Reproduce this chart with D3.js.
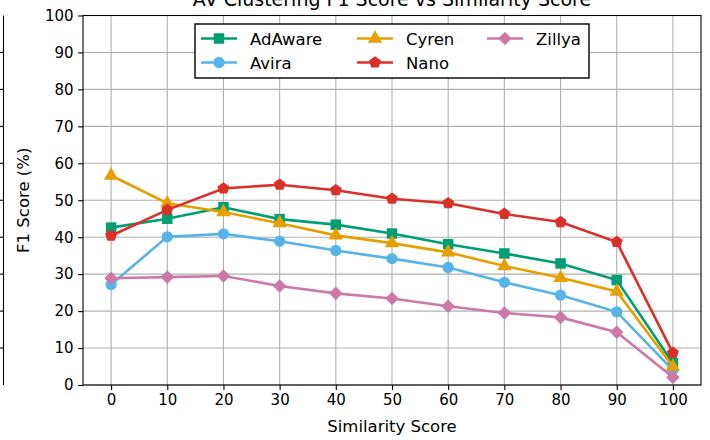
<!DOCTYPE html>
<html>
<head>
<meta charset="utf-8">
<script src="https://cdn.jsdelivr.net/npm/d3@7"></script>
<style>
  body { margin: 0; background: #fff; }
  svg { display: block; font-family: "DejaVu Sans", sans-serif; }
</style>
</head>
<body>
<div id="vis"></div>
<script>
'use strict';

var simScores = [0, 10, 20, 30, 40, 50, 60, 70, 80, 90, 100];
var yTicks = [0, 10, 20, 30, 40, 50, 60, 70, 80, 90, 100];

var adaware = [42.6, 45.0, 48.1, 44.9, 43.4, 41.0, 38.1, 35.6, 32.9, 28.4, 5.9];
var avira   = [27.2, 40.1, 40.9, 38.9, 36.4, 34.2, 31.8, 27.8, 24.3, 19.8, 4.0];
var cyren   = [56.7, 49.2, 46.8, 43.8, 40.5, 38.4, 35.9, 32.2, 29.0, 25.3, 5.0];
var nano    = [40.4, 47.4, 53.2, 54.2, 52.7, 50.4, 49.2, 46.3, 44.1, 38.7, 8.7];
var zillya  = [28.9, 29.2, 29.5, 26.8, 24.8, 23.4, 21.3, 19.5, 18.3, 14.3, 2.1];

var series = [
    { name: 'AdAware', values: adaware, color: '#009e73', symbol: d3.symbolSquare, size: 110 },
    { name: 'Avira',   values: avira,   color: '#56b4e9', symbol: d3.symbolCircle, size: 100 },
    { name: 'Cyren',   values: cyren,   color: '#e69f00', symbol: d3.symbolTriangle, size: 90 },
    { name: 'Nano',    values: nano,    color: '#d93027', symbol: 'pentagon', size: 100 },
    { name: 'Zillya',  values: zillya,  color: '#cc79a7', symbol: 'diamond', size: 110 }
];

var width = 710, height = 440;
var margin = { left: 83, right: 9, top: 15.5, bottom: 55 };

var svg = d3.select('#vis').append('svg')
    .attr('width', width)
    .attr('height', height);

var x = d3.scaleLinear().domain([-5, 105]).range([margin.left, width - margin.right]);
var y = d3.scaleLinear().domain([0, 100]).range([height - margin.bottom, margin.top]);

// regular polygon path centred on 0,0
function polygon(n, r, start) {
    var pts = d3.range(n).map(function (i) {
        var a = start + i * 2 * Math.PI / n;
        return [r * Math.cos(a), r * Math.sin(a)];
    });
    return 'M' + pts.join('L') + 'Z';
}

function markerPath(s) {
    if (s.symbol === 'pentagon') {
        return polygon(5, 6.3, -Math.PI / 2);
    }
    if (s.symbol === 'diamond') {
        return polygon(4, 6.8, -Math.PI / 2);   // square turned 45 deg
    }
    return d3.symbol().type(s.symbol).size(s.size)();
}

// leftover spine of the neighbour panel
svg.append('line')
    .attr('x1', 3.5).attr('x2', 3.5)
    .attr('y1', y(100)).attr('y2', y(0))
    .attr('stroke', '#000').attr('stroke-width', 1.1);
svg.selectAll('.stub-tick')
    .data(yTicks.slice(1, -1))
    .enter().append('line')
    .attr('x1', 0).attr('x2', 3.5)
    .attr('y1', function (d) { return y(d); })
    .attr('y2', function (d) { return y(d); })
    .attr('stroke', '#000').attr('stroke-width', 1.1);

// grid
var gridG = svg.append('g').attr('class', 'grid');
gridG.selectAll('.gx')
    .data(simScores)
    .enter().append('line')
    .attr('x1', function (d) { return x(d); })
    .attr('x2', function (d) { return x(d); })
    .attr('y1', y(0)).attr('y2', y(100))
    .attr('stroke', '#b0b0b0').attr('stroke-width', 1.1);
gridG.selectAll('.gy')
    .data(yTicks)
    .enter().append('line')
    .attr('x1', x(-5)).attr('x2', x(105))
    .attr('y1', function (d) { return y(d); })
    .attr('y2', function (d) { return y(d); })
    .attr('stroke', '#b0b0b0').attr('stroke-width', 1.1);

// axes
var xAxis = svg.append('g')
    .attr('transform', 'translate(0,' + y(0) + ')')
    .call(d3.axisBottom(x).tickValues(simScores).tickSize(4.9).tickPadding(4.5));
var yAxis = svg.append('g')
    .attr('transform', 'translate(' + x(-5) + ',0)')
    .call(d3.axisLeft(y).tickValues(yTicks).tickSize(4.9).tickPadding(4.5));
[xAxis, yAxis].forEach(function (a) {
    a.select('.domain').remove();
    a.selectAll('line').attr('stroke', '#000').attr('stroke-width', 1.1);
    a.selectAll('text')
        .attr('font-family', '"DejaVu Sans", sans-serif')
        .attr('font-size', 15)
        .attr('fill', '#000');
});

// frame
svg.append('rect')
    .attr('x', x(-5)).attr('y', y(100))
    .attr('width', x(105) - x(-5)).attr('height', y(0) - y(100))
    .attr('fill', 'none').attr('stroke', '#000').attr('stroke-width', 1.1);

// lines + markers
var line = d3.line()
    .x(function (d, i) { return x(simScores[i]); })
    .y(function (d) { return y(d); });

var plotG = svg.append('g');
series.forEach(function (s) {
    var g = plotG.append('g');
    g.append('path')
        .attr('d', line(s.values))
        .attr('fill', 'none')
        .attr('stroke', s.color)
        .attr('stroke-width', 2.6);
    g.selectAll('path.mk')
        .data(s.values)
        .enter().append('path')
        .attr('class', 'mk')
        .attr('d', markerPath(s))
        .attr('transform', function (d, i) {
            return 'translate(' + x(simScores[i]) + ',' + y(d) + ')';
        })
        .attr('fill', s.color);
});

// legend
var legG = svg.append('g').attr('transform', 'translate(195,24)');
legG.append('rect')
    .attr('width', 394).attr('height', 54)
    .attr('fill', '#fff').attr('stroke', '#000').attr('stroke-width', 1.4);
var colX = [6, 162, 292];
var rowY = [14.5, 38.5];
series.forEach(function (s, i) {
    var col = Math.floor(i / 2), row = i % 2;
    var it = legG.append('g')
        .attr('transform', 'translate(' + colX[col] + ',' + rowY[row] + ')');
    it.append('line')
        .attr('x1', 0).attr('x2', 36)
        .attr('stroke', s.color).attr('stroke-width', 2.6);
    it.append('path')
        .attr('d', markerPath(s))
        .attr('transform', 'translate(18,0)')
        .attr('fill', s.color);
    it.append('text')
        .attr('x', 49).attr('y', 6)
        .attr('font-size', 16.5)
        .text(s.name);
});

// titles
svg.append('text')
    .attr('x', (x(-5) + x(105)) / 2).attr('y', 5.5)
    .attr('text-anchor', 'middle')
    .attr('font-size', 19)
    .text('AV Clustering F1 Score vs Similarity Score');
svg.append('text')
    .attr('x', (x(-5) + x(105)) / 2).attr('y', 432)
    .attr('text-anchor', 'middle')
    .attr('font-size', 16.5)
    .text('Similarity Score');
svg.append('text')
    .attr('transform', 'translate(29,' + y(50) + ') rotate(-90)')
    .attr('text-anchor', 'middle')
    .attr('font-size', 16.5)
    .text('F1 Score (%)');
</script>
</body>
</html>
